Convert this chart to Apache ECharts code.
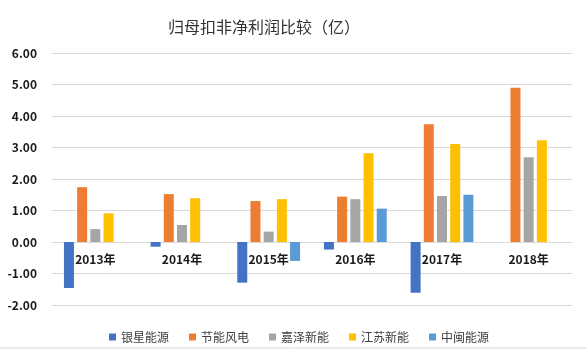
<!DOCTYPE html>
<html>
<head>
<meta charset="utf-8">
<script src="https://cdn.jsdelivr.net/npm/echarts@6/dist/echarts.min.js"></script>
<style>
  html, body { margin: 0; padding: 0; background: #fff; }
  #chart { width: 587px; height: 353px; }
</style>
</head>
<body>
<div id="chart"></div>
<script>
const years = ['2013年', '2014年', '2015年', '2016年', '2017年', '2018年'];
const seriesNames = ['银星能源', '节能风电', '嘉泽新能', '江苏新能', '中闽能源'];
const yinxing = [-1.46, -0.15, -1.29, -0.24, -1.61, null];
const jieneng = [1.74, 1.52, 1.30, 1.44, 3.74, 4.90];
const jiaze = [0.41, 0.54, 0.33, 1.36, 1.46, 2.69];
const jiangsu = [0.91, 1.39, 1.36, 2.82, 3.11, 3.23];
const zhongmin = [null, null, -0.60, 1.06, 1.50, null];
const colors = ['#4472C4', '#ED7D31', '#A5A5A5', '#FFC000', '#5B9BD5'];

const allData = [yinxing, jieneng, jiaze, jiangsu, zhongmin];
const font = '"Noto Sans CJK SC", "Noto Sans", sans-serif';

const chart = echarts.init(document.getElementById('chart'));
chart.setOption({
  animation: false,
  color: colors,
  title: {
    text: '归母扣非净利润比较（亿）',
    left: 163,
    top: 14,
    textStyle: { fontFamily: font, fontSize: 16, fontWeight: 'normal', color: '#333' },
  },
  legend: {
    left: 104,
    top: 326,
    icon: 'rect',
    itemWidth: 7,
    itemHeight: 7,
    itemGap: 20,
    textStyle: { fontFamily: font, fontSize: 12, color: '#404040' },
    data: seriesNames,
  },
  grid: { left: 52, right: 15, top: 53, bottom: 48 },
  xAxis: {
    type: 'category',
    data: years,
    // Excel draws the category axis on the zero line
    offset: -63,
    axisLine: { onZero: false, lineStyle: { color: '#d9d9d9' } },
    axisTick: { show: false },
    axisLabel: { margin: 11, fontFamily: font, fontSize: 12, fontWeight: 'bold', color: '#1a1a1a' },
  },
  yAxis: {
    type: 'value',
    min: -2,
    max: 6,
    interval: 1,
    axisLine: { show: false },
    axisTick: { show: false },
    splitLine: { lineStyle: { color: '#d9d9d9' } },
    axisLabel: {
      margin: 15,
      fontFamily: font,
      fontSize: 12,
      fontWeight: 'bold',
      color: '#1a1a1a',
      formatter: (v) => v.toFixed(2),
    },
  },
  series: seriesNames.map((name, i) => ({
    name,
    type: 'bar',
    barWidth: 10,
    barGap: '32%',
    data: allData[i],
  })),
  graphic: [
    {
      type: 'line',
      shape: { x1: 0, y1: 348, x2: 587, y2: 348 },
      style: { stroke: '#d9d9d9', lineWidth: 1 },
    },
  ],
});
</script>
</body>
</html>
